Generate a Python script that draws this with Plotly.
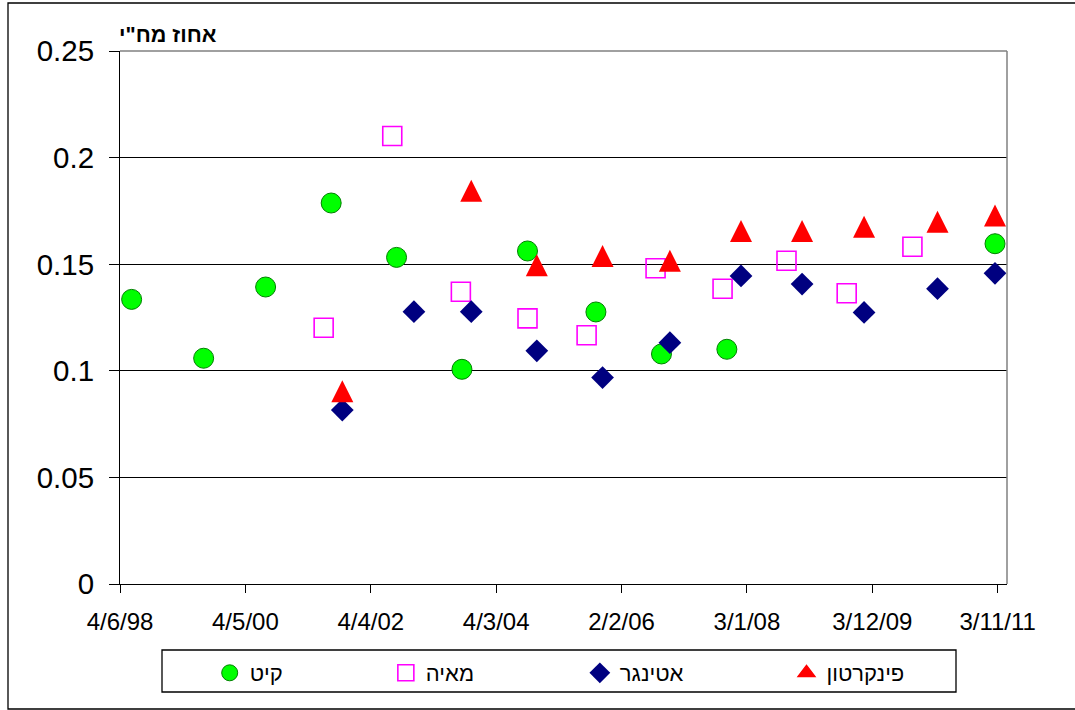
import plotly.graph_objects as go

# ---- data ----
kit_dates = ['1998-08-08', '1999-09-14', '2000-08-25', '2001-08-26', '2002-08-26', '2003-08-26',
             '2004-08-26', '2005-09-12', '2006-09-13', '2007-09-13', '2011-10-19']
kit_vals = [0.1335, 0.1059, 0.1393, 0.1787, 0.1532, 0.1007, 0.1562, 0.1276, 0.1079, 0.1101, 0.1596]

maya_dates = ['2001-07-15', '2002-08-02', '2003-08-20', '2004-08-26', '2005-07-22', '2006-08-11',
              '2007-08-20', '2008-08-11', '2009-07-13', '2010-07-15']
maya_vals = [0.1202, 0.2101, 0.1371, 0.1246, 0.1167, 0.1481, 0.1385, 0.1516, 0.1364, 0.1582]

ettinger_dates = ['2001-10-27', '2002-12-01', '2003-10-17', '2004-10-17', '2005-10-19', '2006-10-30',
                  '2007-12-01', '2008-11-06', '2009-10-18', '2010-12-02', '2011-10-19']
ettinger_vals = [0.0816, 0.1277, 0.1277, 0.1094, 0.0968, 0.1132, 0.1445, 0.1407, 0.1274, 0.1385, 0.1457]

pinkerton_dates = ['2001-10-27', '2003-10-17', '2004-10-17', '2005-10-19', '2006-10-30',
                   '2007-12-01', '2008-11-06', '2009-10-18', '2010-12-02', '2011-10-19']
pinkerton_vals = [0.0904, 0.1845, 0.1495, 0.1538, 0.1516, 0.1656, 0.1656, 0.1676, 0.1699, 0.1729]

series_names = ['קיט', 'מאיה', 'אטינגר', 'פינקרטון']
x_tick_vals = ['1998-06-04', '2000-05-04', '2002-04-04', '2004-03-04', '2006-02-02',
               '2008-01-03', '2009-12-03', '2011-11-03']
x_tick_text = ['4/6/98', '4/5/00', '4/4/02', '4/3/04', '2/2/06', '3/1/08', '3/12/09', '3/11/11']
y_tick_vals = [0, 0.05, 0.1, 0.15, 0.2, 0.25]
y_tick_text = ['0', '0.05', '0.1', '0.15', '0.2', '0.25']
y_title = 'אחוז מח"י'

FONT = 'Liberation Sans, Arial, sans-serif'
W, H = 1075, 710
ML, MR, MT, MB = 120, 68, 51, 126
PW, PH = W - ML - MR, H - MT - MB

def px(x):
    return (x - ML) / PW

def py(y):
    return (H - MB - y) / PH

fig = go.Figure()
fig.add_trace(go.Scatter(
    x=kit_dates, y=kit_vals, mode='markers', name=series_names[0], legend='legend',
    marker=dict(symbol='circle', size=20, color='#00FF00', line=dict(color='#008000', width=1))))
fig.add_trace(go.Scatter(
    x=maya_dates, y=maya_vals, mode='markers', name=series_names[1], legend='legend2',
    marker=dict(symbol='square', size=19, color='rgba(0,0,0,0)', line=dict(color='#FF00FF', width=1.6))))
fig.add_trace(go.Scatter(
    x=ettinger_dates, y=ettinger_vals, mode='markers', name=series_names[2], legend='legend3',
    marker=dict(symbol='diamond', size=17.5, color='#000080', line=dict(color='#000080', width=0))))
# centred, equal width/height triangle
fig.add_trace(go.Scatter(
    x=pinkerton_dates, y=pinkerton_vals, mode='markers', name=series_names[3], showlegend=False,
    marker=dict(symbol='arrow-down', angle=180, standoff=11, size=22, color='#FF0000',
                line=dict(color='#FF0000', width=0))))
# legend entry for the triangle series
fig.add_trace(go.Scatter(
    x=[None], y=[None], mode='markers', name=series_names[3], legend='legend4',
    marker=dict(symbol='triangle-up', size=15, color='#FF0000',
                line=dict(color='#FF0000', width=1.2))))

legend_common = dict(orientation='h', yanchor='middle', xanchor='left', y=py(673),
                     bgcolor='rgba(0,0,0,0)', borderwidth=0,
                     font=dict(family=FONT, size=22, color='black'))
lx = [(m - 20 + t - 40) / 2 for m, t in [(231.7, 247.7), (407.7, 424.0), (602.7, 617.0), (809.0, 824.0)]]

fig.update_layout(
    width=W, height=H,
    margin=dict(l=ML, r=MR, t=MT, b=MB),
    paper_bgcolor='white', plot_bgcolor='white',
    font=dict(family=FONT, color='black'),
    showlegend=True,
    legend=dict(x=px(lx[0]), **legend_common),
    legend2=dict(x=px(lx[1]), **legend_common),
    legend3=dict(x=px(lx[2]), **legend_common),
    legend4=dict(x=px(lx[3]), **legend_common),
    xaxis=dict(type='date', range=['1998-06-04', '2011-12-25'],
               tickvals=x_tick_vals, ticktext=x_tick_text,
               showgrid=False, zeroline=False,
               showline=True, linecolor='black', linewidth=1,
               ticks='outside', ticklen=8, tickcolor='black', tickwidth=1,
               ticklabelstandoff=8,
               tickfont=dict(family=FONT, size=24, color='black')),
    yaxis=dict(range=[0, 0.25], tickvals=y_tick_vals, ticktext=y_tick_text,
               showgrid=True, gridcolor='black', gridwidth=1, zeroline=False,
               showline=True, linecolor='black', linewidth=1,
               ticks='outside', ticklen=10, tickcolor='black', tickwidth=1,
               ticklabelstandoff=9,
               tickfont=dict(family=FONT, size=29.5, color='black')),
    annotations=[dict(text='<b>' + y_title + '</b>', xref='paper', yref='paper',
                      x=px(219), y=py(35), xanchor='right', yanchor='middle', showarrow=False,
                      font=dict(family=FONT, size=21.5, color='black'))],
    shapes=[
        # plot area top/right border (gray)
        dict(type='line', xref='paper', yref='paper', x0=0, x1=1, y0=1, y1=1,
             line=dict(color='#808080', width=1.5), layer='above'),
        dict(type='line', xref='paper', yref='paper', x0=1, x1=1, y0=0, y1=1,
             line=dict(color='#808080', width=1.5), layer='above'),
        # legend box
        dict(type='rect', xref='paper', yref='paper', x0=px(162), x1=px(956), y0=py(650), y1=py(692),
             line=dict(color='black', width=1.3), fillcolor='rgba(0,0,0,0)', layer='above'),
        # chart border
        dict(type='rect', xref='paper', yref='paper', x0=px(8), x1=px(1090), y0=py(3), y1=py(709),
             line=dict(color='black', width=1.3), fillcolor='rgba(0,0,0,0)', layer='above'),
    ],
)

fig.write_html('out.html')
